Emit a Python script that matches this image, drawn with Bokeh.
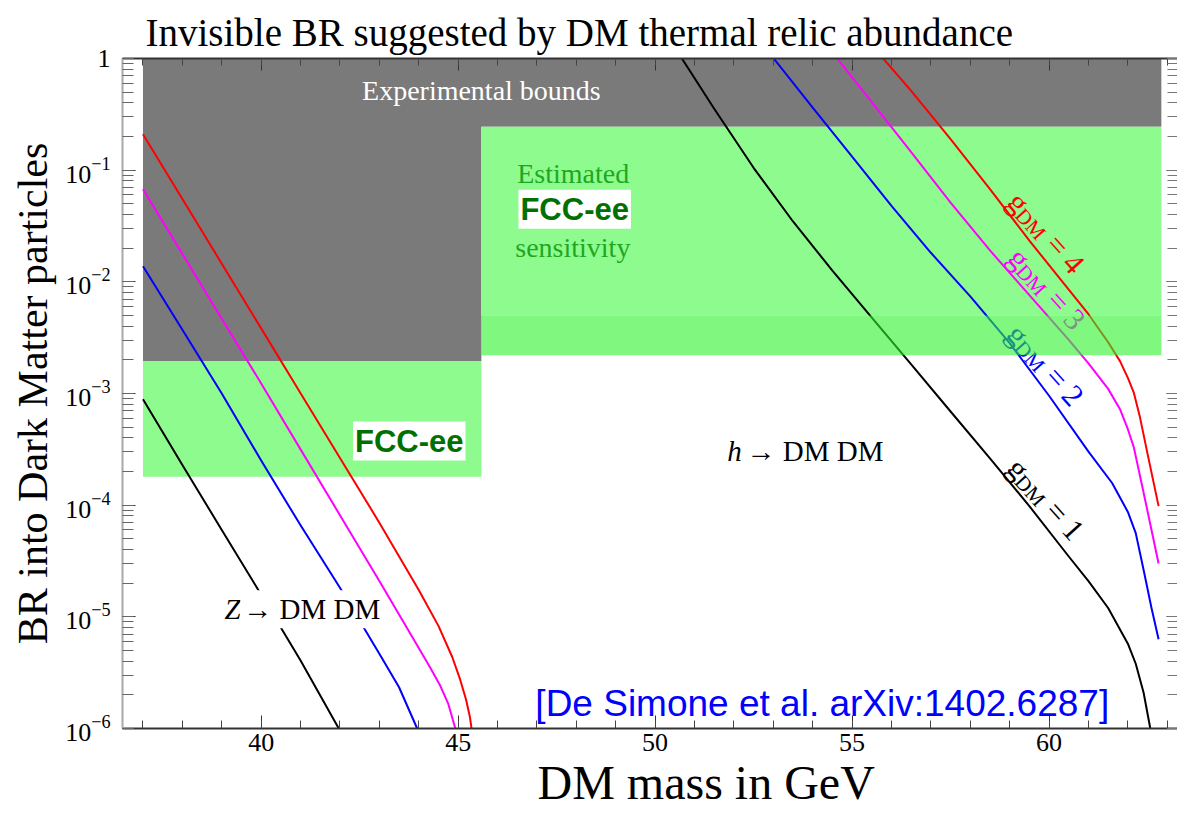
import math

from bokeh.plotting import figure
from bokeh.models import (Range1d, LinearAxis, LogAxis, SingleIntervalTicker, LogTicker,
                          LogTickFormatter, CustomJSTickFormatter, Label, Title)
from bokeh.embed import file_html
from bokeh.resources import INLINE

SERIF = "Liberation Serif"
SANS = "Liberation Sans"

# ---------------------------------------------------------------------------
# Thermal-relic branching ratios, DM mass in GeV, one curve per coupling g_DM
# ---------------------------------------------------------------------------
z_mass_g1 = [37.0, 38.0, 39.0, 40.0, 41.0, 41.97]
z_br_g1 = [8.9e-4, 2.29e-4, 6.0e-5, 1.58e-5, 4.07e-6, 1.0e-6]
z_mass_g2 = [37.0, 38.0, 39.0, 40.0, 41.0, 42.0, 43.0, 43.5, 43.96]
z_br_g2 = [1.38e-2, 3.72e-3, 1.0e-3, 2.51e-4, 6.6e-5, 1.82e-5, 4.68e-6, 2.34e-6, 1.0e-6]
z_mass_g3 = [37.0, 38.0, 39.0, 40.0, 41.0, 42.0, 43.0, 43.5, 44.0, 44.3, 44.55, 44.75, 44.93]
z_br_g3 = [6.76e-2, 1.78e-2, 4.68e-3, 1.23e-3, 3.16e-4, 8.13e-5, 2.09e-5, 1.05e-5, 5.25e-6,
           3.47e-6, 2.4e-6, 1.66e-6, 1.0e-6]
z_mass_g4 = [37.0, 38.0, 39.0, 40.0, 41.0, 42.0, 43.0, 44.0, 44.5, 44.85, 45.05, 45.2, 45.3, 45.34]
z_br_g4 = [0.21, 5.53e-2, 1.455e-2, 3.83e-3, 1.007e-3, 2.65e-4, 6.97e-5, 1.74e-5, 8.3e-6,
           4.37e-6, 2.75e-6, 1.82e-6, 1.26e-6, 1.0e-6]

h_mass_g1 = [50.68, 51.5, 52.5, 53.5, 54.5, 55.5, 56.5, 57.5, 58.5, 59.5, 60.5, 61.0, 61.5,
             62.0, 62.2, 62.4, 62.57]
h_br_g1 = [1.0, 0.355, 0.105, 3.47e-2, 1.26e-2, 4.79e-3, 1.82e-3, 6.9e-4, 2.63e-4, 9.8e-5,
           3.47e-5, 2.09e-5, 1.2e-5, 5.75e-6, 3.8e-6, 2.09e-6, 1.0e-6]
h_mass_g2 = [53.01, 54.0, 55.0, 56.0, 57.0, 58.0, 59.0, 60.0, 61.0, 61.6, 62.0, 62.2, 62.4,
             62.6, 62.78]
h_br_g2 = [1.0, 0.363, 0.132, 4.79e-2, 1.82e-2, 7.41e-3, 2.82e-3, 9.55e-4, 3.02e-4, 1.58e-4,
           8.7e-5, 5.62e-5, 2.63e-5, 1.2e-5, 6.3e-6]
h_mass_g3 = [54.62, 55.5, 56.5, 57.5, 58.5, 59.5, 60.5, 61.0, 61.5, 61.8, 62.0, 62.15, 62.4,
             62.6, 62.78]
h_br_g3 = [1.0, 0.407, 0.145, 5.13e-2, 1.91e-2, 7.6e-3, 3.02e-3, 1.86e-3, 1.1e-3, 7.24e-4,
           4.79e-4, 3.31e-4, 1.29e-4, 6.0e-5, 3.0e-5]
h_mass_g4 = [55.79, 56.5, 57.5, 58.5, 59.5, 60.5, 61.0, 61.5, 61.8, 62.0, 62.15, 62.3, 62.5, 62.78]
h_br_g4 = [1.0, 0.513, 0.19, 6.76e-2, 2.34e-2, 8.5e-3, 5.13e-3, 2.88e-3, 1.95e-3, 1.38e-3,
           1.02e-3, 6.3e-4, 2.88e-4, 9.8e-5]

coupling_values = [1, 2, 3, 4]
coupling_colors = ["black", "#0000ff", "#ff00ff", "#ff0000"]

# Excluded regions: Z-pole bound (left column) and the top band that runs across
bound_mass_lo = [37.0, 37.0]
bound_mass_hi = [45.59, 62.85]
bound_br_lo = [1.95e-3, 0.245]
bound_br_hi = [1.0, 1.0]

# FCC-ee reach
fcc_mass_lo = [37.0, 45.59]
fcc_mass_hi = [45.59, 62.85]
fcc_br_lo = [1.8e-4, 5.0e-3]
fcc_br_hi = [1.95e-3, 0.245]

fcc_ext_mass_lo = [45.59]
fcc_ext_mass_hi = [62.85]
fcc_ext_br_lo = [2.2e-3]
fcc_ext_br_hi = [5.0e-3]

# Where the g_DM = n tags sit (baseline start of the "g")
tag_mass = [59.09, 59.08, 59.12, 59.10]
tag_br = [10 ** -3.621, 10 ** -2.419, 10 ** -1.737, 10 ** -1.235]

# ---------------------------------------------------------------------------
p = figure(width=1177, height=814,
           x_range=Range1d(36.48, 63.26), y_range=Range1d(1e-6, 1.0),
           y_axis_type="log", output_backend="svg", toolbar_location=None,
           min_border_left=122, min_border_right=0, min_border_top=58, min_border_bottom=86)
p.grid.visible = False
p.outline_line_color = None
p.background_fill_color = "white"
p.border_fill_color = "white"

p.title = Title(text="Invisible BR suggested by DM thermal relic abundance", align="left",
                offset=23, text_font=SERIF, text_font_size="39px", text_font_style="normal",
                text_color="black", standoff=10)

# bottom axis
xa = p.xaxis[0]
xa.ticker = SingleIntervalTicker(interval=5, num_minor_ticks=5)
xa.major_tick_in = 13
xa.major_tick_out = 0
xa.minor_tick_in = 8
xa.minor_tick_out = 0
xa.axis_line_color = "#333333"
xa.axis_line_width = 2
xa.major_tick_line_color = "#333333"
xa.minor_tick_line_color = "#444444"
xa.major_label_text_font = SERIF
xa.major_label_text_font_size = "26px"
xa.major_label_text_color = "black"
xa.major_label_standoff = 5

# left axis
ya = p.yaxis[0]
ya.ticker = LogTicker(num_minor_ticks=10)
ya.formatter = LogTickFormatter()
ya.major_label_overrides = {1: "1"}
ya.major_tick_in = 13
ya.major_tick_out = 0
ya.minor_tick_in = 11
ya.minor_tick_out = 0
ya.axis_line_color = "#a8a8a8"
ya.axis_line_width = 2
ya.major_tick_line_color = "#333333"
ya.minor_tick_line_color = "#666666"
ya.major_label_text_font = SERIF
ya.major_label_text_font_size = "26px"
ya.major_label_text_color = "black"
ya.major_label_standoff = 12
ya.axis_label = "BR into Dark Matter particles"
ya.axis_label_text_font = SERIF
ya.axis_label_text_font_size = "42px"
ya.axis_label_text_font_style = "normal"
ya.axis_label_text_color = "black"
ya.axis_label_standoff = 6

blank = CustomJSTickFormatter(code="return ''")

top = LinearAxis(ticker=SingleIntervalTicker(interval=5, num_minor_ticks=5), formatter=blank,
                 major_tick_in=12, major_tick_out=0, minor_tick_in=7, minor_tick_out=0,
                 major_label_standoff=0, axis_line_color="#333333", axis_line_width=2,
                 major_tick_line_color="#333333", minor_tick_line_color="#444444")
p.add_layout(top, "above")

right = LogAxis(ticker=LogTicker(num_minor_ticks=10), formatter=blank,
                major_tick_in=11, major_tick_out=0, minor_tick_in=10, minor_tick_out=0,
                major_label_standoff=0, axis_line_color=None,
                major_tick_line_color="#444444", minor_tick_line_color="#777777")
p.add_layout(right, "right")

# x-axis caption, set a little right of centre
p.add_layout(Title(text="DM mass in GeV", align="left", offset=415, text_font=SERIF,
                   text_font_size="48px", text_font_style="normal", text_color="black",
                   standoff=0), "below")

# shaded regions
p.quad(left=bound_mass_lo, right=bound_mass_hi, bottom=bound_br_lo, top=bound_br_hi,
       fill_color="#7a7a7a", line_color=None)
p.quad(left=fcc_mass_lo, right=fcc_mass_hi, bottom=fcc_br_lo, top=fcc_br_hi,
       fill_color="#8efb8e", line_color=None)

# relic curves
z_curves = [(z_mass_g1, z_br_g1), (z_mass_g2, z_br_g2), (z_mass_g3, z_br_g3), (z_mass_g4, z_br_g4)]
h_curves = [(h_mass_g1, h_br_g1), (h_mass_g2, h_br_g2), (h_mass_g3, h_br_g3), (h_mass_g4, h_br_g4)]
for (mx, br), col in zip(z_curves, coupling_colors):
    p.line(mx, br, line_color=col, line_width=2, line_join="round")
for (mx, br), col in zip(h_curves, coupling_colors):
    p.line(mx, br, line_color=col, line_width=2, line_join="round")

# translucent extension of the FCC-ee band, painted over curves and tags
p.quad(left=fcc_ext_mass_lo, right=fcc_ext_mass_hi, bottom=fcc_ext_br_lo, top=fcc_ext_br_hi,
       fill_color="#2bf32b", fill_alpha=0.6, line_color=None, level="overlay")


def lab(x, y, text, size, color="black", font=SERIF, style="normal", align="left",
        baseline="middle", angle=0.0, bg=None, pad=0, dx=0.0, dy=0.0):
    kw = {}
    if bg is not None:
        kw = dict(background_fill_color=bg, background_fill_alpha=1.0, padding=pad)
    p.add_layout(Label(x=x, y=y, text=text, text_font=font, text_font_size=size,
                       text_color=color, text_font_style=style, text_align=align,
                       text_baseline=baseline, angle=angle, angle_units="deg",
                       x_offset=dx, y_offset=dy, **kw))


# region annotations
lab(45.59, 10 ** -0.287, "Experimental bounds", "28px", color="white", align="center")
lab(46.50, 10 ** -1.031, "Estimated", "28px", color="#1fa81f")
lab(46.53, 10 ** -1.35, "FCC-ee", "31px", color="#007000", font=SANS, style="bold",
    bg="white", pad=2)
lab(46.45, 10 ** -1.695, "sensitivity", "28px", color="#1fa81f")
lab(42.33, 10 ** -3.426, "FCC-ee", "31px", color="#007000", font=SANS, style="bold",
    bg="white", pad=2)

# process labels
lab(38.99, 10 ** -4.933, "Z", "29px", style="italic", bg="white", pad=3)
lab(39.47, 10 ** -4.933, "\u2192 DM DM", "29px", bg="white", pad=3)
lab(51.83, 10 ** -3.516, "h", "29px", style="italic")
lab(52.32, 10 ** -3.516, "\u2192 DM DM", "29px")

lab(46.96, 10 ** -5.776, "[De Simone et al. arXiv:1402.6287]", "37px", color="#0000ff",
    font=SANS, baseline="alphabetic")

# g_DM = n tags along the Higgs curves
ANG = 48.0
cs, sn = math.cos(math.radians(ANG)), math.sin(math.radians(ANG))


def shift(u, v):
    """screen offset for u px along the tilted text and v px below its baseline"""
    return u * cs - v * sn, -(u * sn + v * cs)


for mx, br, g, col in zip(tag_mass, tag_br, coupling_values, coupling_colors):
    for txt, u, v, size in (("g", 0, 0, "31px"), ("DM", 15, 6, "21px"), (f"= {g}", 57, 0, "31px")):
        ox, oy = shift(u, v)
        lab(mx, br, txt, size, color=col, baseline="alphabetic", angle=-ANG, dx=ox, dy=oy)

open("out.html", "w", encoding="utf-8").write(file_html(p, INLINE))
